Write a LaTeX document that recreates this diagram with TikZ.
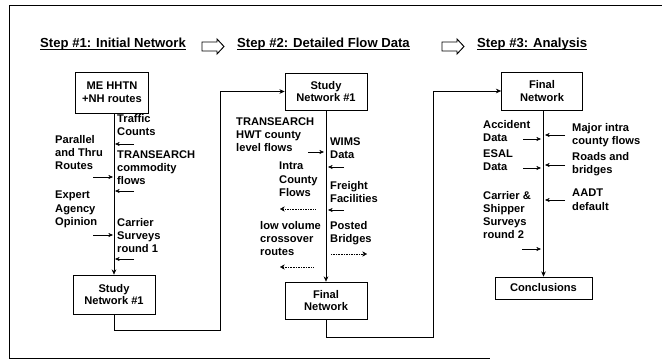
\documentclass[tikz,border=0pt]{standalone}
\usepackage{fontspec}
\setmainfont{Liberation Sans}
\usetikzlibrary{arrows.meta}

\tikzset{
  box/.style={draw, semithick, align=center, inner sep=0pt,
    font=\bfseries\fontsize{9.5}{11}\selectfont},
  lbl/.style={anchor=north west, align=left, inner sep=0pt,
    font=\bfseries\fontsize{9.5}{11.2}\selectfont},
  head/.style={anchor=base west, inner sep=0pt,
    font=\bfseries\fontsize{11.2}{13}\selectfont},
  uline/.style={semithick},
  flow/.style={-{Stealth[length=4.5pt,width=4pt]}, semithick},
  feed/.style={-{Stealth[length=4pt,width=3.5pt]}, thin},
  dfeed/.style={-{Stealth[length=4pt,width=4.5pt]}, densely dotted}
}

\begin{document}
\begin{tikzpicture}[x=0.03cm, y=-0.03cm]
\useasboundingbox (0,0) rectangle (662,364);

% frame
\draw[semithick] (662,5) -- (9,5) -- (9,358) -- (490,358);

% step headings
\node[head] (h1) at (40,47.5) {Step \#1: Initial Network};
\node[head] (h2) at (237,47.5) {Step \#2: Detailed Flow Data};
\node[head] (h3) at (477,47.5) {Step \#3: Analysis};
\foreach \h in {h1,h2,h3}
  \draw[uline] ([yshift=-1.6pt]\h.base west) -- ([yshift=-1.6pt]\h.base east);
\foreach \ax in {202,442}
  \draw[thick] (\ax,42) -- ++(15,0) -- ++(0,-3) -- ++(7,7.5) -- ++(-7,7.5)
    -- ++(0,-3) -- ++(-15,0) -- cycle;

% boxes
\node[box, minimum width=2.2cm, minimum height=1.23cm] (me) at (112,92.5) {ME HHTN\\+NH routes};
\node[box, minimum width=2.46cm, minimum height=1.17cm] (study1) at (114,294.5) {Study\\Network \#1};
\node[box, minimum width=2.46cm, minimum height=1.11cm] (study2) at (326,91.5) {Study\\Network \#1};
\node[box, minimum width=2.46cm, minimum height=1.11cm] (final2) at (326,300.5) {Final\\Network};
\node[box, minimum width=2.43cm, minimum height=1.14cm] (final3) at (542,91) {Final\\Network};
\node[box, minimum width=2.91cm, minimum height=0.66cm] (concl) at (543.5,288) {Conclusions};

\coordinate (c1) at (220,330);
\coordinate (c2) at (433,337);

\draw[flow] (me.south -| study1.north) -- (study1.north);
\draw[flow] (study1.south) |- (c1) |- (study2.west);
\draw[flow] (study2.south) -- (final2.north);
\draw[flow] (final2.south) |- (c2) |- (final3.west);
\draw[flow] (final3.south -| concl.north) -- (concl.north);

% step 1 inputs
\node[lbl] (traffic) at (117,114) {Traffic\\Counts};
\node[lbl] (parallel) at (55,135) {Parallel\\and Thru\\Routes};
\node[lbl] (transearch) at (117,150) {TRANSEARCH\\commodity\\flows};
\node[lbl] (expert) at (55,191) {Expert\\Agency\\Opinion};
\node[lbl] (carrier1) at (117,218) {Carrier\\Surveys\\round 1};

\draw[feed] (134,144) -- (115,144);
\draw[feed] (93,177) -- (113,177);
\draw[feed] (134,191) -- (115,191);
\draw[feed] (93,235) -- (113,235);
\draw[feed] (134,259) -- (115,259);

% step 2 inputs
\node[lbl] (hwt) at (236,117) {TRANSEARCH\\HWT county\\level flows};
\node[lbl] (wims) at (330,137) {WIMS\\Data};
\node[lbl] (intra) at (279,162) {Intra\\County\\Flows};
\node[lbl] (freight) at (330,181) {Freight\\Facilities};
\node[lbl] (lowvol) at (260,221) {low volume\\crossover\\routes};
\node[lbl] (posted) at (330,221) {Posted\\Bridges};

\draw[feed] (308,152) -- (324,152);
\draw[feed] (344,167) -- (328,167);
\draw[feed] (344,210) -- (328,210);
\draw[dfeed] (315,209) -- (280,209);
\draw[dfeed] (313,267) -- (280,267);
\draw[dfeed] (331,254) -- (367,254);

% step 3 inputs
\node[lbl] (accident) at (483,120) {Accident\\Data};
\node[lbl] (esal) at (483,149) {ESAL\\Data};
\node[lbl] (carrier2) at (483,191) {Carrier \&\\Shipper\\Surveys\\round 2};
\node[lbl] (major) at (572,123) {Major intra\\county flows};
\node[lbl] (roads) at (572,152) {Roads and\\bridges};
\node[lbl] (aadt) at (572,189) {AADT\\default};

\draw[feed] (523,139) -- (541,139);
\draw[feed] (523,168) -- (541,168);
\draw[feed] (522,249) -- (541,249);
\draw[feed] (565,135) -- (545,135);
\draw[feed] (565,165) -- (545,165);
\draw[feed] (565,200) -- (545,200);

\end{tikzpicture}
\end{document}
